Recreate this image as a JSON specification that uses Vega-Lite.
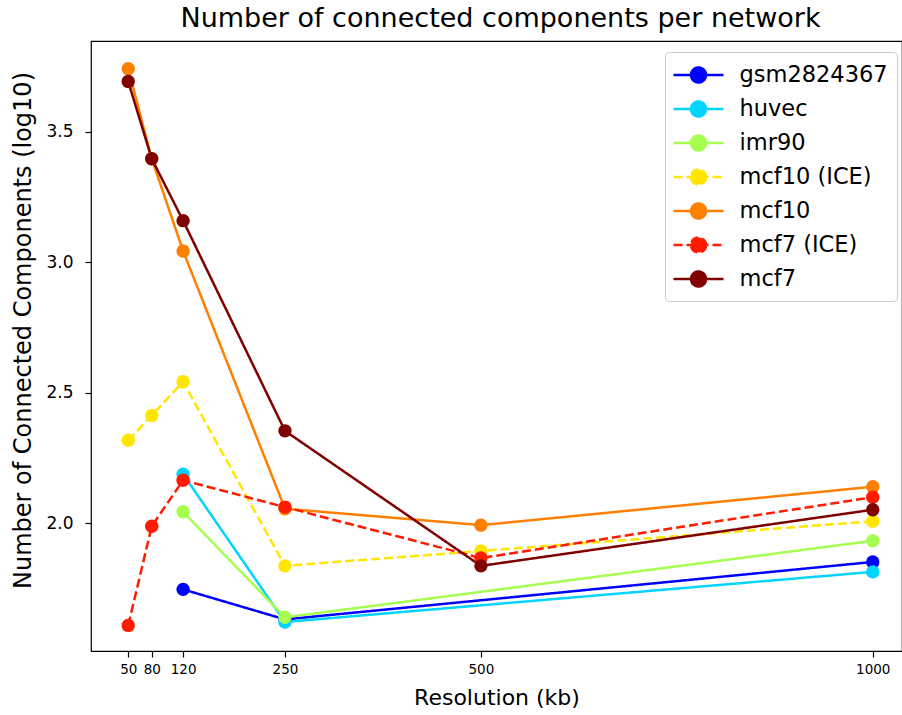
{
  "$schema": "https://vega.github.io/schema/vega-lite/v6.json",
  "width": 811,
  "height": 610,
  "autosize": {"type": "none"},
  "padding": {"left": 91, "top": 41, "right": 0, "bottom": 64},
  "background": "white",
  "title": {"text": "Number of connected components per network", "fontSize": 27, "font": "DejaVu Sans", "fontWeight": "normal", "anchor": "middle", "offset": 8, "color": "black", "dx": 4},
  "config": {"view": {"stroke": "black", "strokeWidth": 1.2}, "font": "DejaVu Sans"},
  "data": {"values": [
    {"network": "gsm2824367", "res": 120, "value": 1.747},
    {"network": "gsm2824367", "res": 250, "value": 1.632},
    {"network": "gsm2824367", "res": 1000, "value": 1.852},
    {"network": "huvec", "res": 120, "value": 2.188},
    {"network": "huvec", "res": 250, "value": 1.622},
    {"network": "huvec", "res": 1000, "value": 1.814},
    {"network": "imr90", "res": 120, "value": 2.044},
    {"network": "imr90", "res": 250, "value": 1.640},
    {"network": "imr90", "res": 1000, "value": 1.933},
    {"network": "mcf10 (ICE)", "res": 50, "value": 2.318},
    {"network": "mcf10 (ICE)", "res": 80, "value": 2.413},
    {"network": "mcf10 (ICE)", "res": 120, "value": 2.542},
    {"network": "mcf10 (ICE)", "res": 250, "value": 1.837},
    {"network": "mcf10 (ICE)", "res": 500, "value": 1.894},
    {"network": "mcf10 (ICE)", "res": 1000, "value": 2.008},
    {"network": "mcf10", "res": 50, "value": 3.741},
    {"network": "mcf10", "res": 80, "value": 3.396},
    {"network": "mcf10", "res": 120, "value": 3.043},
    {"network": "mcf10", "res": 250, "value": 2.056},
    {"network": "mcf10", "res": 500, "value": 1.993},
    {"network": "mcf10", "res": 1000, "value": 2.140},
    {"network": "mcf7 (ICE)", "res": 50, "value": 1.609},
    {"network": "mcf7 (ICE)", "res": 80, "value": 1.989},
    {"network": "mcf7 (ICE)", "res": 120, "value": 2.165},
    {"network": "mcf7 (ICE)", "res": 250, "value": 2.062},
    {"network": "mcf7 (ICE)", "res": 500, "value": 1.867},
    {"network": "mcf7 (ICE)", "res": 1000, "value": 2.100},
    {"network": "mcf7", "res": 50, "value": 3.692},
    {"network": "mcf7", "res": 80, "value": 3.396},
    {"network": "mcf7", "res": 120, "value": 3.159},
    {"network": "mcf7", "res": 250, "value": 2.354},
    {"network": "mcf7", "res": 500, "value": 1.837},
    {"network": "mcf7", "res": 1000, "value": 2.052}
  ]},
  "mark": {"type": "line", "strokeWidth": 2.5, "point": {"filled": true, "size": 180, "opacity": 1}},
  "encoding": {
    "x": {"field": "res", "type": "quantitative",
      "scale": {"domain": [2.5, 1037.3], "nice": false, "zero": false},
      "axis": {"values": [50, 80, 120, 250, 500, 1000], "format": "d", "title": "Resolution (kb)", "grid": false, "domain": false,
        "tickColor": "black", "tickSize": 6, "tickWidth": 1.2, "labelFontSize": 13.5, "labelColor": "black", "labelPadding": 5,
        "titleFontSize": 22, "titleFontWeight": "normal", "titleColor": "black", "titlePadding": 12}},
    "y": {"field": "value", "type": "quantitative",
      "scale": {"domain": [1.511, 3.847], "nice": false, "zero": false},
      "axis": {"values": [2.0, 2.5, 3.0, 3.5], "format": ".1f", "title": "Number of Connected Components (log10)", "grid": false, "domain": false,
        "tickColor": "black", "tickSize": 6, "tickWidth": 1.2, "labelFontSize": 17, "labelColor": "black", "labelPadding": 12,
        "titleFontSize": 24, "titleFontWeight": "normal", "titleColor": "black", "titlePadding": 10, "titleY": 289, "titleAlign": "center"}},
    "color": {"field": "network", "type": "nominal",
      "scale": {"domain": ["gsm2824367", "huvec", "imr90", "mcf10 (ICE)", "mcf10", "mcf7 (ICE)", "mcf7"],
        "range": ["#0000ff", "#00d4ff", "#a6ff50", "#ffe500", "#ff8000", "#ff1a00", "#800000"]},
      "legend": {"title": null, "orient": "none", "legendX": 574, "legendY": 11,
        "symbolType": "M-2,0H2M0.6,0A0.6,0.6,0,1,1,-0.6,0A0.6,0.6,0,1,1,0.6,0",
        "symbolSize": 625, "symbolStrokeWidth": 2.5, "symbolOffset": 10.5, "labelFontSize": 22.5, "labelColor": "black", "labelOffset": 27,
        "rowPadding": 7.0, "padding": 9, "strokeColor": "#cccccc", "fillColor": "white", "cornerRadius": 4,
        "encode": {"symbols": {"update": {"fill": {"scale": "color", "field": "value"}, "opacity": {"value": 1}}}}}},
    "strokeDash": {"field": "network", "type": "nominal",
      "scale": {"domain": ["gsm2824367", "huvec", "imr90", "mcf10 (ICE)", "mcf10", "mcf7 (ICE)", "mcf7"],
        "range": [[1, 0], [1, 0], [1, 0], [9, 4], [1, 0], [9, 4], [1, 0]]},
      "legend": {"title": null}}
  }
}
